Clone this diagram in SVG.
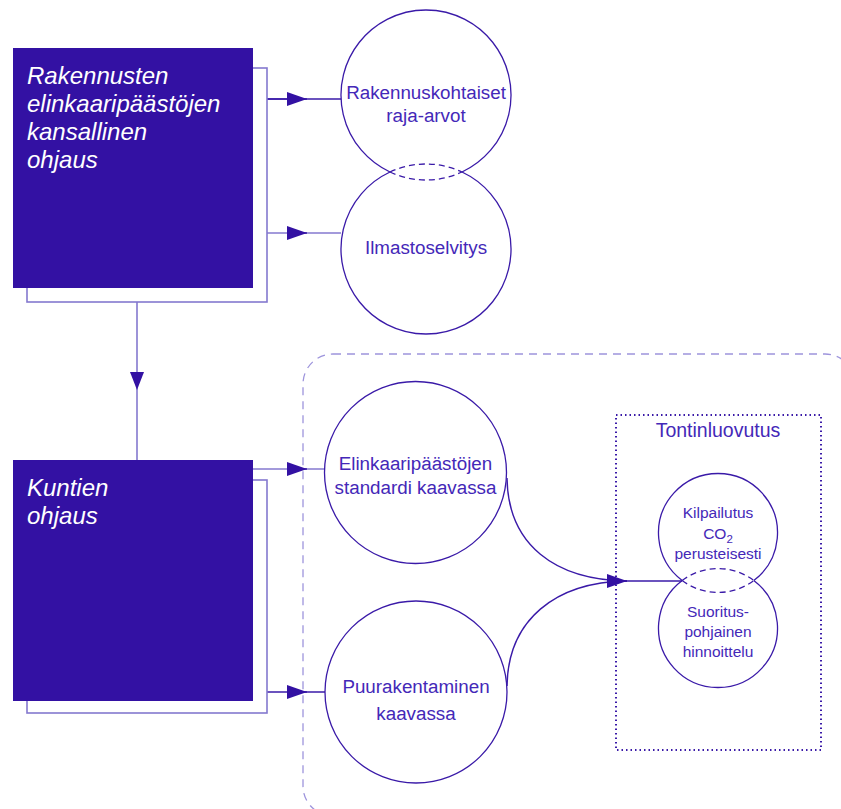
<svg xmlns="http://www.w3.org/2000/svg" width="841" height="809" viewBox="0 0 841 809">
<defs>
<style>
.box{fill:#3311a3}
.back{fill:none;stroke:#8478cf;stroke-width:1.6}
.btxt{font-family:"Liberation Sans",Arial,sans-serif;font-style:italic;font-size:24px;fill:#ffffff}
.circ{fill:#ffffff;stroke:#3a1aa8;stroke-width:1.3}
.arc{fill:none;stroke:#3a1aa8;stroke-width:1.3}
.lens{fill:none;stroke:#3a1aa8;stroke-width:1.3;stroke-dasharray:6 4}
.ctxt{font-family:"Liberation Sans",Arial,sans-serif;font-size:18.8px;fill:#4428b8;text-anchor:middle}
.stxt{font-family:"Liberation Sans",Arial,sans-serif;font-size:15.5px;fill:#4428b8;text-anchor:middle}
.link{fill:none;stroke:#3a1aa8;stroke-width:1.4}
.linkl{fill:none;stroke:#8478cf;stroke-width:1.6}
.group{fill:none;stroke:#9d94dc;stroke-width:1.3;stroke-dasharray:8 6}
.dotted{fill:none;stroke:#3a1aa8;stroke-width:2;stroke-dasharray:1.5 3}
</style>
<marker id="ah" viewBox="0 0 20 14" refX="20" refY="7" markerWidth="20" markerHeight="14" markerUnits="userSpaceOnUse" orient="auto">
<path d="M0,0 L20,7 L0,14 Z" fill="#3311a3"/>
</marker>
</defs>

<rect class="group" x="303" y="354" width="552" height="462" rx="30"/>
<rect class="dotted" x="616" y="415" width="205" height="335"/>
<text class="ctxt" x="718" y="437" style="font-size:19.5px">Tontinluovutus</text>

<g id="connectors">
<line class="link" x1="267" y1="99" x2="341" y2="99"/>
<line class="link" x1="267" y1="99" x2="307" y2="99" marker-end="url(#ah)"/>
<line class="linkl" x1="267" y1="233" x2="341" y2="233"/>
<line class="link" x1="290" y1="233" x2="307" y2="233" marker-end="url(#ah)"/>
<line class="linkl" x1="137" y1="302" x2="137" y2="460"/>
<path d="M130,372 L144,372 L137,390 Z" fill="#3311a3"/>
<line class="linkl" x1="253" y1="469" x2="325" y2="469"/>
<line class="link" x1="290" y1="469" x2="307" y2="469" marker-end="url(#ah)"/>
<line class="link" x1="267" y1="692" x2="325" y2="692"/>
<line class="link" x1="290" y1="692" x2="307" y2="692" marker-end="url(#ah)"/>
<path class="link" d="M507,478 C508,545 555,580 627,581"/>
<path class="link" d="M507,686 C508,620 555,582 627,581"/>
<line class="link" x1="610" y1="581" x2="682" y2="581"/>
<line class="link" x1="607" y1="581" x2="627" y2="581" marker-end="url(#ah)"/>
</g>

<g id="node-kansallinen">
<rect class="back" x="27" y="68" width="240" height="234"/>
<rect class="box" x="13" y="48" width="240" height="240"/>
<text class="btxt" x="27" y="84">Rakennusten</text>
<text class="btxt" x="27" y="112">elinkaaripäästöjen</text>
<text class="btxt" x="27" y="140">kansallinen</text>
<text class="btxt" x="27" y="168">ohjaus</text>
</g>

<g id="node-kuntien">
<rect class="back" x="27" y="480" width="240" height="233"/>
<rect class="box" x="13" y="460" width="240" height="241"/>
<text class="btxt" x="27" y="496">Kuntien</text>
<text class="btxt" x="27" y="524">ohjaus</text>
</g>

<g id="node-rakennuskohtaiset">
<path class="arc" d="M390,172 A85,85 0 1 1 462,172"/>
<path class="lens" d="M390,172 A85,85 0 0 0 462,172"/>
<text class="ctxt" x="426" y="99">Rakennuskohtaiset</text>
<text class="ctxt" x="426" y="122">raja-arvot</text>
</g>

<g id="node-ilmastoselvitys">
<path class="arc" d="M390,172 A85,85 0 1 0 462,172"/>
<path class="lens" d="M390,172 A85,85 0 0 1 462,172"/>
<text class="ctxt" x="426" y="254">Ilmastoselvitys</text>
</g>

<g id="node-elinkaari">
<circle class="circ" cx="415.5" cy="472.5" r="91"/>
<text class="ctxt" x="415.5" y="470">Elinkaaripäästöjen</text>
<text class="ctxt" x="415.5" y="494">standardi kaavassa</text>
</g>

<g id="node-puurakentaminen">
<circle class="circ" cx="416" cy="692" r="91"/>
<text class="ctxt" x="416" y="693">Puurakentaminen</text>
<text class="ctxt" x="416" y="720">kaavassa</text>
</g>

<g id="node-kilpailutus">
<path class="arc" d="M682.2,580.5 A59.5,59.5 0 1 1 753.8,580.5"/>
<path class="lens" d="M682.2,580.5 A59.5,59.5 0 0 0 753.8,580.5"/>
<text class="stxt" x="718" y="518">Kilpailutus</text>
<text class="stxt" x="718" y="539">CO<tspan dy="4" style="font-size:11.5px">2</tspan></text>
<text class="stxt" x="718" y="559">perusteisesti</text>
</g>

<g id="node-suoritus">
<path class="arc" d="M682.2,580.5 A59.5,59.5 0 1 0 753.8,580.5"/>
<path class="lens" d="M682.2,580.5 A59.5,59.5 0 0 1 753.8,580.5"/>
<text class="stxt" x="718" y="617">Suoritus-</text>
<text class="stxt" x="718" y="637">pohjainen</text>
<text class="stxt" x="718" y="657">hinnoittelu</text>
</g>
</svg>
